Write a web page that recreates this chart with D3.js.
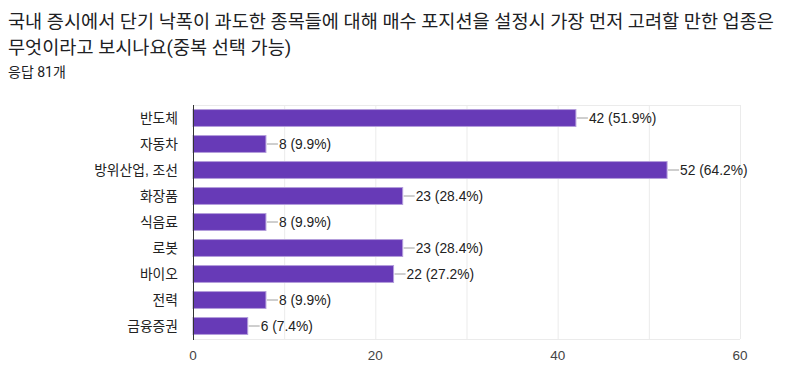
<!DOCTYPE html>
<html>
  <head>
    <meta charset="utf-8">
    <title>업종 선호</title>
    <style>
      body { margin: 0; background: #fff; }
      text { font-family: 'Liberation Sans', 'Noto Sans CJK KR', sans-serif; }
      text.head { font-family: Roboto, 'Noto Sans CJK KR', sans-serif; }
    </style>
  </head>
  <body>
    <script src="https://cdnjs.cloudflare.com/ajax/libs/d3/7.8.5/d3.min.js"></script>
    <script>
      let titleLines = ['국내 증시에서 단기 낙폭이 과도한 종목들에 대해 매수 포지션을 설정시 가장 먼저 고려할 만한 업종은',
                        '무엇이라고 보시나요(중복 선택 가능)'];
      let subtitle = '응답 81개';

      let categories = ['반도체', '자동차', '방위산업, 조선', '화장품', '식음료', '로봇', '바이오', '전력', '금융증권'];
      let counts = [42, 8, 52, 23, 8, 23, 22, 8, 6];
      let percents = ['51.9%', '9.9%', '64.2%', '28.4%', '9.9%', '28.4%', '27.2%', '9.9%', '7.4%'];
      let xTicks = [0, 20, 40, 60];
      let gridTicks = [0, 10, 20, 30, 40, 50, 60];

      let svg = d3.select('body')
                  .append('svg')
                  .attr('width', 800)
                  .attr('height', 386);

      svg.selectAll('.title')
         .data(titleLines)
         .enter()
           .append('text')
           .attr('class', 'head')
           .attr('x', 8)
           .attr('y', (d, i) => 28 + i * 26)
           .attr('font-size', '18.6px')
           .attr('fill', '#202124')
           .text(d => d);

      svg.append('text')
         .attr('class', 'head')
         .attr('x', 8)
         .attr('y', 77)
         .attr('font-size', '14px')
         .attr('fill', '#202124')
         .text(subtitle);

      let xScale = d3.scaleLinear()
                     .domain([0, 60])
                     .range([193, 740]);

      let yScale = d3.scaleBand()
                     .domain(categories)
                     .range([105, 339])
                     .paddingInner(0.35)
                     .paddingOuter(0.175);

      // grid
      svg.selectAll('.grid')
         .data(gridTicks)
         .enter()
           .append('line')
           .attr('x1', d => xScale(d) + 0.5)
           .attr('x2', d => xScale(d) + 0.5)
           .attr('y1', 105)
           .attr('y2', 339)
           .attr('stroke', '#ebebeb')
           .attr('stroke-width', 1);

      svg.append('line')
         .attr('x1', 193).attr('x2', 740)
         .attr('y1', 105.5).attr('y2', 105.5)
         .attr('stroke', '#ebebeb');
      svg.append('line')
         .attr('x1', 193).attr('x2', 740)
         .attr('y1', 339.5).attr('y2', 339.5)
         .attr('stroke', '#ebebeb');

      svg.selectAll('.bar')
         .data(counts)
         .enter()
           .append('rect')
           .attr('x', xScale(0))
           .attr('y', (d, i) => yScale(categories[i]))
           .attr('width', d => xScale(d) - xScale(0))
           .attr('height', yScale.bandwidth())
           .attr('fill', '#673ab7')
           .attr('stroke', '#b39ddb')
           .attr('stroke-width', 1);

      // leader lines + labels
      svg.selectAll('.leader')
         .data(counts)
         .enter()
           .append('line')
           .attr('x1', d => xScale(d) + 1)
           .attr('x2', d => xScale(d) + 12)
           .attr('y1', (d, i) => yScale(categories[i]) + yScale.bandwidth() / 2)
           .attr('y2', (d, i) => yScale(categories[i]) + yScale.bandwidth() / 2)
           .attr('stroke', '#9e9e9e')
           .attr('stroke-width', 1);

      svg.selectAll('.value')
         .data(counts)
         .enter()
           .append('text')
           .attr('x', d => xScale(d) + 13)
           .attr('y', (d, i) => yScale(categories[i]) + yScale.bandwidth() / 2)
           .attr('dy', '0.36em')
           .attr('font-size', '13.8px')
           .attr('fill', '#222')
           .text((d, i) => d + ' (' + percents[i] + ')');

      svg.selectAll('.cat')
         .data(categories)
         .enter()
           .append('text')
           .attr('x', 178)
           .attr('y', d => yScale(d) + yScale.bandwidth() / 2)
           .attr('dy', '0.36em')
           .attr('text-anchor', 'end')
           .attr('font-size', '13.8px')
           .attr('fill', '#222')
           .text(d => d);

      // left axis line
      svg.append('line')
         .attr('x1', 193.5).attr('x2', 193.5)
         .attr('y1', 105).attr('y2', 340)
         .attr('stroke', '#333')
         .attr('stroke-width', 1);

      svg.selectAll('.tick')
         .data(xTicks)
         .enter()
           .append('text')
           .attr('x', d => xScale(d))
           .attr('y', 360)
           .attr('text-anchor', 'middle')
           .attr('font-size', '13.5px')
           .attr('fill', '#444')
           .text(d => d);
    </script>
  </body>
</html>
